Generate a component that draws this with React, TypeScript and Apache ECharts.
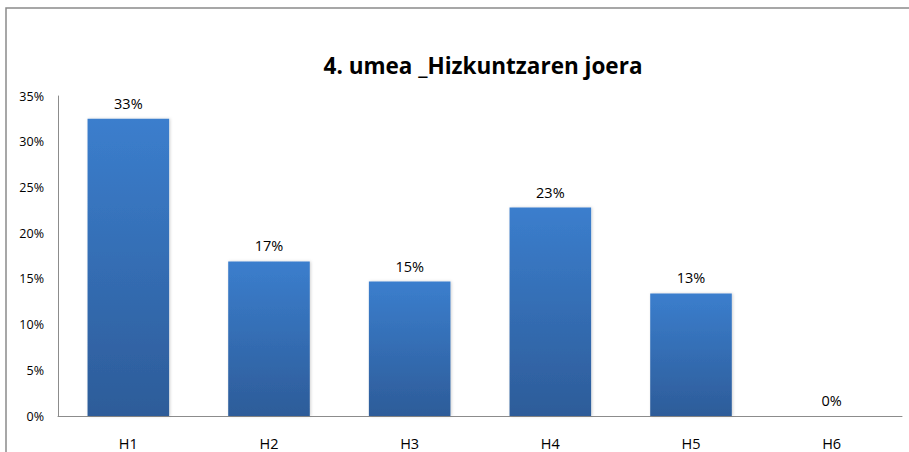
import React, { useEffect, useRef } from "react";
import * as echarts from "echarts";

const categories = ["H1", "H2", "H3", "H4", "H5", "H6"];
const values = [0.325, 0.169, 0.147, 0.228, 0.134, 0];
const yTicks = [0, 0.05, 0.1, 0.15, 0.2, 0.25, 0.3, 0.35];
const titleText = "4. umea _Hizkuntzaren joera";

export default function App() {
  const ref = useRef<HTMLDivElement>(null);
  useEffect(() => {
    if (!ref.current) return;
    const chart = echarts.init(ref.current, undefined, { renderer: "svg" });
    const font = "'Open Sans', sans-serif";
    chart.setOption({
      animation: false,
      backgroundColor: "#fff",
      title: {
        text: titleText,
        left: 478,
        top: 49,
        textAlign: "center",
        textStyle: { fontFamily: font, fontWeight: "bold", fontSize: 22.5, color: "#000" },
      },
      graphic: [
        {
          type: "polyline",
          shape: { points: [[6, 460], [6, 8], [920, 8]] },
          style: { stroke: "#8a8a8a", lineWidth: 1.5, fill: null },
          silent: true,
        },
      ],
      grid: { left: 58, right: 7, top: 96, bottom: 36, containLabel: false },
      xAxis: {
        type: "category",
        data: categories,
        axisLine: { lineStyle: { color: "#8c8c8c", width: 1 } },
        axisTick: { show: false },
        axisLabel: { margin: 20, fontFamily: font, fontSize: 14.5, color: "#000" },
      },
      yAxis: {
        type: "value",
        min: yTicks[0],
        max: yTicks[yTicks.length - 1],
        interval: 0.05,
        splitLine: { show: false },
        axisLine: { show: true, lineStyle: { color: "#8c8c8c", width: 1 } },
        axisTick: { show: false },
        axisLabel: {
          margin: 14,
          fontFamily: font,
          fontSize: 12.5,
          color: "#000",
          formatter: (v: number) => Math.round(v * 100) + "%",
        },
      },
      series: [
        {
          type: "bar",
          data: values,
          barWidth: "58%",
          itemStyle: {
            color: new echarts.graphic.LinearGradient(0, 0, 0, 1, [
              { offset: 0, color: "#3b7ecd" },
              { offset: 1, color: "#2d5c99" },
            ]),
            shadowColor: "rgba(0,0,0,0.18)",
            shadowBlur: 3,
            shadowOffsetX: 1,
          },
          label: {
            show: true,
            position: "top",
            distance: 8,
            fontFamily: font,
            fontSize: 14.5,
            color: "#000",
            formatter: (p: any) => Math.round(p.value * 100) + "%",
          },
        },
      ],
    });
    return () => chart.dispose();
  }, []);
  return <div ref={ref} style={{ width: 909, height: 452, position: "absolute", left: 0, top: 0 }} />;
}
